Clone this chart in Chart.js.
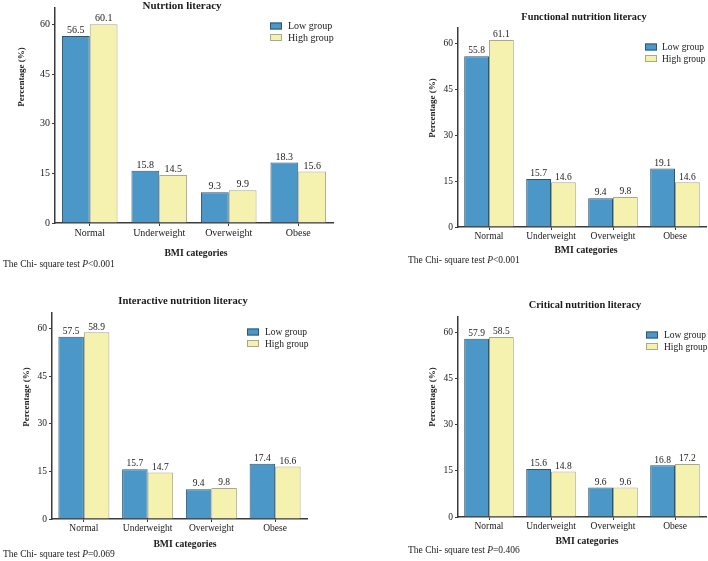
<!DOCTYPE html>
<html>
<head>
<meta charset="utf-8">
<script src="https://cdn.jsdelivr.net/npm/chart.js@4.4.1/dist/chart.umd.min.js"></script>
<style>
  body { margin: 0; background: #fff; }
  #page { position: relative; width: 708px; height: 561px; overflow: hidden; font-family: "Liberation Serif", serif; }
  canvas { position: absolute; }
  .chi { position: absolute; font-size: 9.5px; color: #1a1a1a; white-space: nowrap; line-height: 1; }
</style>
</head>
<body>
<div id="page"></div>
<script>
// data
const categories = ['Normal', 'Underweight', 'Overweight', 'Obese'];
const seriesNames = ['Low group', 'High group'];
const yTicks = [0, 15, 30, 45, 60];
const yMax = 65;

const titles = ['Nutrtion literacy', 'Functional nutrition literacy', 'Interactive nutrition literacy', 'Critical nutrition literacy'];
const nutritionLow = [56.5, 15.8, 9.3, 18.3];
const nutritionHigh = [60.1, 14.5, 9.9, 15.6];
const functionalLow = [55.8, 15.7, 9.4, 19.1];
const functionalHigh = [61.1, 14.6, 9.8, 14.6];
const interactiveLow = [57.5, 15.7, 9.4, 17.4];
const interactiveHigh = [58.9, 14.7, 9.8, 16.6];
const criticalLow = [57.9, 15.6, 9.6, 16.8];
const criticalHigh = [58.5, 14.8, 9.6, 17.2];
const pValues = ['<0.001', '<0.001', '=0.069', '=0.406'];

const lowSeries = [nutritionLow, functionalLow, interactiveLow, criticalLow];
const highSeries = [nutritionHigh, functionalHigh, interactiveHigh, criticalHigh];

// layout of each panel (page pixels / local pixels)
const panels = [
  { x: 0,   y: 0,   w: 354, h: 280, left: 55,  top: 2,  right: 333, bottom: 223,
    titleX: 182, titleY: 6,  titleFs: 11, yTitleX: 22, yTitleY: 77,  xTitleX: 196, xTitleY: 253,
    legBox: 270, legText: 288, legY: 26, chiX: 3,  chiY: 265, fs: 10 },
  { x: 354, y: 0,   w: 354, h: 280, left: 104, top: 28, right: 352, bottom: 227,
    titleX: 230, titleY: 17, titleFs: 10.3, yTitleX: 79, yTitleY: 108, xTitleX: 232, xTitleY: 250,
    legBox: 291, legText: 308, legY: 47, chiX: 54, chiY: 261, fs: 9.5 },
  { x: 0,   y: 280, w: 354, h: 281, left: 52,  top: 33, right: 307, bottom: 239,
    titleX: 183, titleY: 21, titleFs: 10.6, yTitleX: 27, yTitleY: 117, xTitleX: 185, xTitleY: 264,
    legBox: 247, legText: 265, legY: 52, chiX: 3,  chiY: 275, fs: 9.5 },
  { x: 354, y: 280, w: 354, h: 281, left: 104, top: 37, right: 352, bottom: 237,
    titleX: 231, titleY: 25, titleFs: 10.4, yTitleX: 79, yTitleY: 117, xTitleX: 233, xTitleY: 261,
    legBox: 292, legText: 310, legY: 55, chiX: 54, chiY: 271, fs: 9.5 },
];

const blue = '#4b97c7';
const blueEdge = '#2e5670';
const yellow = '#f5f1ae';
const yellowEdge = '#aaa88a';
const axisColor = '#3a3a3a';
const textColor = '#1a1a1a';

// titles, value labels and legend
const panelText = {
  id: 'panelText',
  afterDatasetsDraw(chart, args, o) {
    const ctx = chart.ctx;
    ctx.save();
    ctx.fillStyle = textColor;
    ctx.textAlign = 'center';
    ctx.textBaseline = 'bottom';
    ctx.font = o.fs + 'px "Liberation Serif"';
    chart.data.datasets.forEach((ds, i) => {
      chart.getDatasetMeta(i).data.forEach((bar, j) => {
        ctx.fillText(ds.data[j].toFixed(1), bar.x, bar.y - 0.5);
      });
    });
    ctx.restore();
  },
  afterDraw(chart, args, o) {
    const ctx = chart.ctx;
    ctx.save();
    ctx.fillStyle = textColor;
    ctx.textAlign = 'center';
    ctx.textBaseline = 'middle';
    ctx.font = 'bold ' + o.titleFs + 'px "Liberation Serif"';
    ctx.fillText(o.title, o.titleX, o.titleY);
    ctx.font = 'bold 9.7px "Liberation Serif"';
    ctx.fillText('BMI categories', o.xTitleX, o.xTitleY);
    ctx.save();
    ctx.translate(o.yTitleX, o.yTitleY);
    ctx.rotate(-Math.PI / 2);
    ctx.font = 'bold 9px "Liberation Serif"';
    ctx.fillText('Percentage (%)', 0, 0);
    ctx.restore();

    // legend
    ctx.textAlign = 'left';
    ctx.font = o.fs + 'px "Liberation Serif"';
    const fills = [blue, yellow];
    const edges = [blueEdge, yellowEdge];
    seriesNames.forEach((name, i) => {
      const cy = o.legY + i * 11.5;
      ctx.fillStyle = fills[i];
      ctx.fillRect(o.legBox, cy - 3.5, 12, 7);
      ctx.strokeStyle = edges[i];
      ctx.lineWidth = 1;
      ctx.strokeRect(o.legBox + 0.5, cy - 3, 11, 6);
      ctx.fillStyle = textColor;
      ctx.fillText(name, o.legText, cy + 0.5);
    });
    ctx.restore();
  }
};

const page = document.getElementById('page');

panels.forEach((p, k) => {
  const canvas = document.createElement('canvas');
  canvas.width = p.w;
  canvas.height = p.h;
  canvas.style.left = p.x + 'px';
  canvas.style.top = p.y + 'px';
  page.appendChild(canvas);

  const chi = document.createElement('div');
  chi.className = 'chi';
  chi.style.left = (p.x + p.chiX) + 'px';
  chi.style.top = (p.y + p.chiY - 5) + 'px';
  chi.innerHTML = 'The Chi- square test <i>P</i>' + pValues[k].replace('<', '&lt;');
  page.appendChild(chi);

  new Chart(canvas.getContext('2d'), {
    type: 'bar',
    data: {
      labels: categories,
      datasets: [
        { label: seriesNames[0], data: lowSeries[k], backgroundColor: blue, borderColor: blueEdge, borderWidth: 1 },
        { label: seriesNames[1], data: highSeries[k], backgroundColor: yellow, borderColor: yellowEdge, borderWidth: 1 },
      ],
    },
    options: {
      responsive: false,
      animation: false,
      categoryPercentage: 0.8,
      barPercentage: 1.0,
      layout: { padding: { left: 0, top: p.top, right: p.w - p.right, bottom: 0 } },
      plugins: {
        legend: { display: false },
        tooltip: { enabled: false },
        panelText: { ...p, title: titles[k] },
      },
      scales: {
        x: {
          grid: { display: true, drawOnChartArea: false, offset: false, tickLength: 3, color: axisColor },
          border: { display: true, color: axisColor, width: 1.5 },
          ticks: { padding: 1, color: textColor, font: { family: 'Liberation Serif', size: p.fs } },
          afterFit: s => { s.height = p.h - p.bottom; },
        },
        y: {
          min: 0,
          max: yMax,
          grid: { display: true, drawOnChartArea: false, tickLength: 3, color: axisColor },
          border: { display: true, color: axisColor, width: 1.5 },
          ticks: { padding: 2, color: textColor, font: { family: 'Liberation Serif', size: p.fs } },
          afterBuildTicks: s => { s.ticks = yTicks.map(v => ({ value: v })); },
          afterFit: s => { s.width = p.left; },
        },
      },
    },
    plugins: [panelText],
  });
});
</script>
</body>
</html>
